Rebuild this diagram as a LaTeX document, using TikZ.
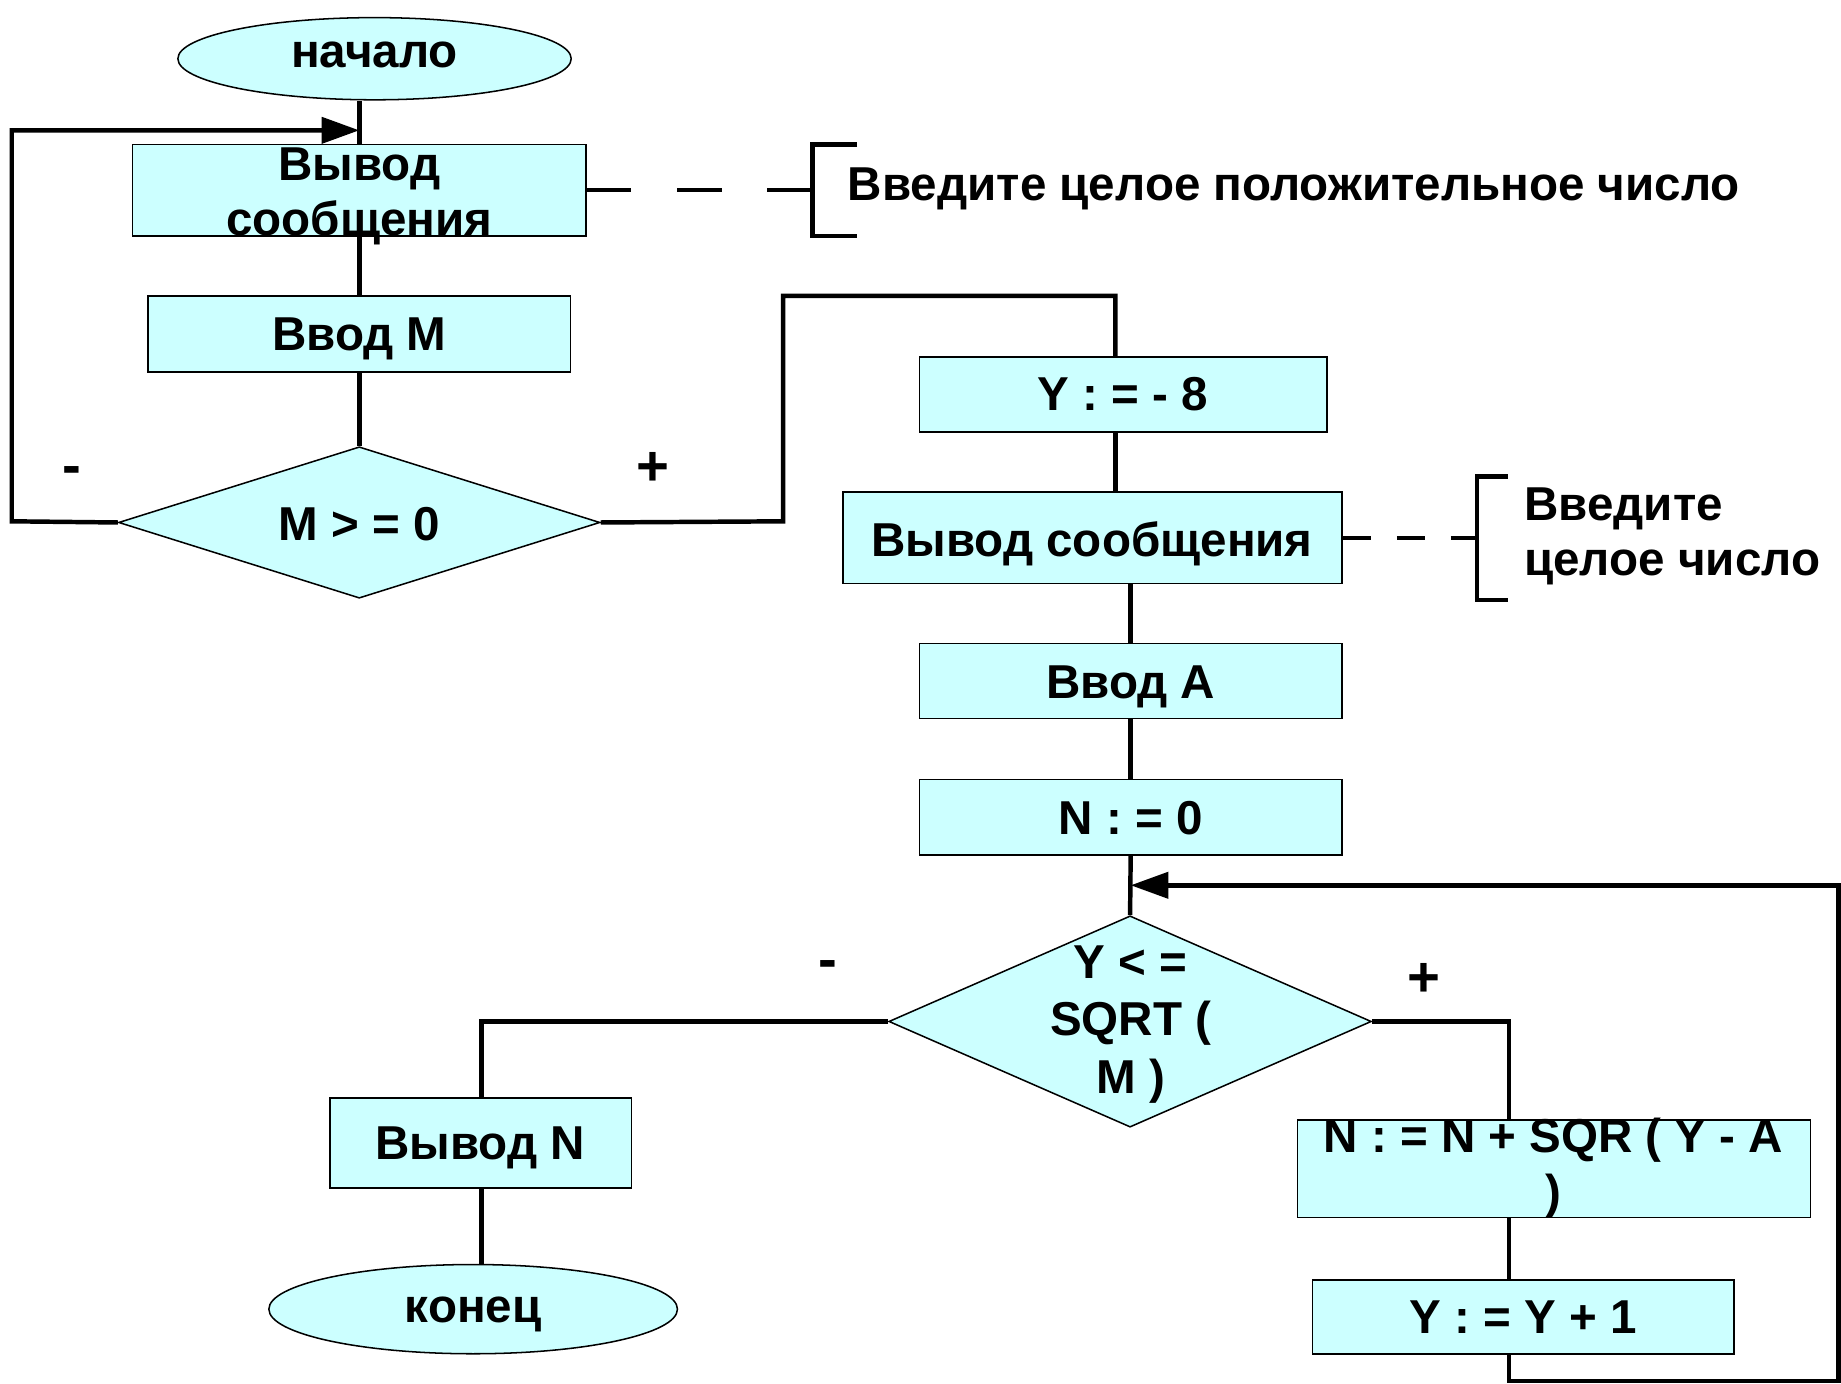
\documentclass[tikz,border=0pt]{standalone}
\usepackage{fontspec}
\setmainfont{Liberation Sans}
\usetikzlibrary{shapes.geometric,arrows.meta}
\definecolor{cellfill}{HTML}{CCFFFF}
\begin{document}
\begin{tikzpicture}[x=1pt,y=-1pt,
  txt/.style={font=\fontsize{40.5}{47}\selectfont\bfseries, inner sep=0pt},
  sign/.style={font=\fontsize{48}{50}\selectfont\bfseries, inner sep=0pt},
  box/.style={draw=black, line width=1.3pt, fill=cellfill, inner sep=0pt},
  term/.style={ellipse, draw=black, line width=1.3pt, fill=cellfill, inner sep=0pt},
  dec/.style={diamond, draw=black, line width=1.3pt, fill=cellfill, inner sep=0pt},
  flow/.style={line width=3.8pt},
  arr/.style={flow, -{Triangle[length=32pt,width=22pt]}},
  dashlink/.style={line width=3.8pt, dash pattern=on 38pt off 39pt},
  dashlinkb/.style={line width=3.8pt, dash pattern=on 24pt off 22pt},
  brace/.style={line width=3.8pt}]
\useasboundingbox (0,0) rectangle (1568,1178);

% ---------- input of M ----------
\node[term, minimum width=335pt, minimum height=70pt] (start) at (319,50) {};
\node[txt] (startt) at (319,47) {начало};

\node[box, minimum width=386pt, minimum height=78pt] (msg1) at (306,162) {};
\node[txt, align=center] (msg1t) at (306,167) {Вывод\\сообщения};

\node[box, minimum width=360pt, minimum height=65pt] (inM) at (306,284.5) {};
\node[txt] (inMt) at (306,289) {Ввод M};

\node[dec, minimum width=410pt, minimum height=129pt] (d1) at (306,445) {};
\node[txt] (d1t) at (306,446) {M > = 0};

\node[sign] (minus1) at (61,405) {-};
\node[sign] (plus1) at (556,399) {+};

% note for the first message
\coordinate (br1) at (692,162);
\draw[brace] (730,123) -- (692,123) -- (692,201) -- (730,201);
\draw[dashlink] (msg1.east) -- (br1);
\node[txt, anchor=west] (note1) at (722,160.5) {Введите целое положительное число};

% ---------- main part ----------
\node[box, minimum width=347pt, minimum height=64pt] (y8) at (956.5,336) {};
\node[txt] (y8t) at (956,336) {Y : = - 8};

\node[box, minimum width=425pt, minimum height=78pt] (msg2) at (930.5,458) {};
\node[txt] (msg2t) at (930,463) {Вывод сообщения};

\coordinate (br2) at (1258,458);
\draw[brace] (1284,406) -- (1258,406) -- (1258,511) -- (1284,511);
\draw[dashlinkb] (msg2.east) -- (br2);
\node[txt, anchor=west] (note2a) at (1298,433) {Введите};
\node[txt, anchor=west] (note2b) at (1298,483) {целое число};

\node[box, minimum width=360pt, minimum height=64pt] (inA) at (963,580) {};
\node[txt] (inAt) at (963,585) {Ввод A};

\node[box, minimum width=360pt, minimum height=64pt] (n0) at (963,696) {};
\node[txt] (n0t) at (963,697) {N : = 0};

\node[dec, minimum width=411pt, minimum height=180pt] (d2) at (962.5,870) {};
\node[txt, align=center] (d2t) at (963,872.5) {Y < =\\[2pt]SQRT (\\[2pt]M )};

\node[sign] (minus2) at (705,826) {-};
\node[sign] (plus2) at (1213,835) {+};

\node[box, minimum width=257pt, minimum height=77pt] (outN) at (409.5,973.5) {};
\node[txt] (outNt) at (409,977.5) {Вывод N};

\node[term, minimum width=348pt, minimum height=76pt] (stop) at (403,1115) {};
\node[txt] (stopt) at (403,1119.5) {конец};

\node[box, minimum width=437pt, minimum height=83pt] (acc) at (1323.5,995.5) {};
\node[txt, align=center] (acct) at (1323,995) {N : = N + SQR ( Y - A\\)};

\node[box, minimum width=359pt, minimum height=63pt] (inc) at (1297.5,1121.5) {};
\node[txt] (inct) at (1297,1122) {Y : = Y + 1};

% ---------- connectors ----------
\coordinate (j1) at (306,111);
\coordinate (j2) at (963,754);

\draw[flow] (start.south -| msg1.north) -- (msg1.north);
\draw[flow] (msg1.south) -- (inM.north);
\draw[flow] (inM.south) -- (d1.north);
\draw[arr] (d1.west) -- (10,444) -- (10,111) -- (j1);
\draw[flow] (d1.east) -- (667,444) -- (667,252) -- (950,252) -- (950,304);
\draw[flow] (950,368) -- (950,419);
\draw[flow] (963,497) -- (inA.north);
\draw[flow] (inA.south) -- (n0.north);
\draw[flow] (n0.south) -- (d2.north);
\draw[flow] (d2.west) -- (410,870) -- (410,935);
\draw[flow] (outN.south -| 410,0) -- (stop.north -| 410,0);
\draw[flow] (d2.east) -- (1285,870) -- (1285,954);
\draw[flow] (1285,1037) -- (1285,1090);
\draw[arr] (1285,1153) -- (1285,1176) -- (1566,1176) -- (1566,754) -- (j2);
\end{tikzpicture}
\end{document}
